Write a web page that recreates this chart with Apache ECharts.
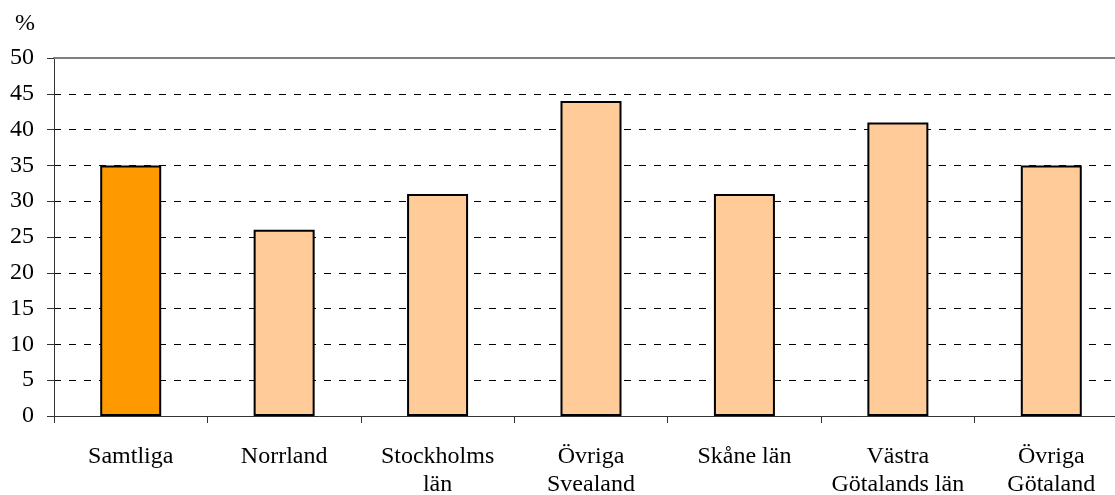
<!DOCTYPE html>
<html>
<head>
<meta charset="utf-8">
<script src="https://cdn.jsdelivr.net/npm/echarts@6/dist/echarts.min.js"></script>
<style>html,body{margin:0;padding:0;background:#fff}#c{width:1115px;height:495px}</style>
</head>
<body>
<div id="c"></div>
<script>
var categories = ['Samtliga', 'Norrland', 'Stockholms\nlän', 'Övriga\nSvealand', 'Skåne län', 'Västra\nGötalands län', 'Övriga\nGötaland'];
var values = [35, 26, 31, 44, 31, 41, 35];
var barColors = ['#FF9900', '#FFCC99', '#FFCC99', '#FFCC99', '#FFCC99', '#FFCC99', '#FFCC99'];
var yMin = 0, yMax = 50, yStep = 5;

var FONT = 'Liberation Serif, Times New Roman, serif';
var chart = echarts.init(document.getElementById('c'), null, {renderer: 'canvas'});
chart.setOption({
  animation: false,
  backgroundColor: '#fff',
  grid: {left: 54, right: -13, top: 58, bottom: 79, containLabel: false, outerBoundsMode: 'none'},
  graphic: [{type: 'text', left: 15, top: 12, style: {text: '%', font: '24px ' + FONT, fill: '#000'}}],
  xAxis: [{
    type: 'category',
    data: categories,
    position: 'bottom',
    axisLine: {lineStyle: {color: '#333', width: 1}},
    axisTick: {show: true, length: 7, inside: false, lineStyle: {color: '#333'}},
    axisLabel: {interval: 0, margin: 27, color: '#000', fontFamily: FONT, fontSize: 24, lineHeight: 28}
  }, {
    type: 'category',
    data: categories,
    position: 'top',
    axisLine: {lineStyle: {color: '#808080', width: 2}},
    axisTick: {show: false},
    axisLabel: {show: false}
  }],
  yAxis: {
    type: 'value',
    min: yMin, max: yMax, interval: yStep,
    axisLine: {show: true, lineStyle: {color: '#333', width: 1}},
    axisTick: {show: true, length: 7, lineStyle: {color: '#333'}},
    axisLabel: {margin: 20, color: '#000', fontFamily: FONT, fontSize: 24},
    splitLine: {show: true, lineStyle: {color: '#000', width: 1, type: [7, 8]}}
  },
  series: [{
    type: 'bar',
    xAxisIndex: 0,
    barWidth: 61,
    data: values.map(function (v, i) {
      return {value: v, itemStyle: {color: barColors[i]}};
    }),
    itemStyle: {borderColor: '#000', borderWidth: 2}
  }]
});
</script>
</body>
</html>
